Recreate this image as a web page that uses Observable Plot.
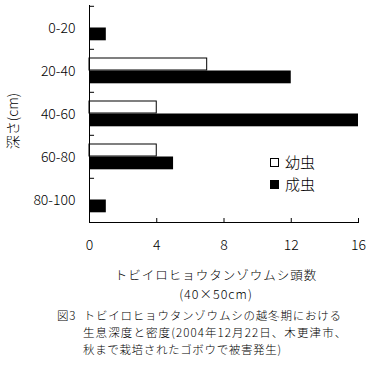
<!DOCTYPE html>
<html><head><meta charset="utf-8">
<script src="https://cdn.jsdelivr.net/npm/d3@7"></script>
<script src="https://cdn.jsdelivr.net/npm/@observablehq/plot@0.6"></script>
<style>
body{margin:0;background:#fff;}
#wrap{position:relative;width:368px;height:375px;font-family:"Noto Sans CJK JP",sans-serif;font-weight:300;color:#000;background:#fff;}
.abs{position:absolute;white-space:pre;line-height:1;}
.sq{display:inline-block;width:7px;height:7px;border:1px solid #000;box-sizing:content-box;vertical-align:1px;}
</style></head><body><div id="wrap"></div>
<script>
const depths = ["0-20","20-40","40-60","60-80","80-100"];
const larvae = [0,7,4,4,0];
const adults = [1,12,16,5,1];
const xTicks = [0,4,8,12,16];
const seriesNames = ["幼虫","成虫"];
const yTitle = "深さ(cm)";
const xTitle1 = "トビイロヒョウタンゾウムシ頭数";
const xTitle2 = "(40×50cm)";
const captionLines = ["図3 トビイロヒョウタンゾウムシの越冬期における","生息深度と密度(2004年12月22日、木更津市、","秋まで栽培されたゴボウで被害発生)"];

const larvaeData = depths.map((d,i)=>({depth:d, value:larvae[i]})).filter(d=>d.value>0);
const adultData = depths.map((d,i)=>({depth:d, value:adults[i]})).filter(d=>d.value>0);

const H = 256, mT = 5, mB = 34;
const band = (H - mT - mB) / depths.length;

const plot = Plot.plot({
  width: 368, height: H, marginLeft: 89, marginRight: 10, marginTop: mT, marginBottom: mB,
  style: {fontFamily: '"Noto Sans CJK JP", sans-serif', fontWeight: 300, fontSize: "14px", background: "white", color: "black", overflow: "visible"},
  x: {domain: [0, 16], ticks: xTicks},
  y: {domain: depths, padding: 0},
  marks: [
    Plot.barX(larvaeData, {x: "value", y: "depth", fill: "white", stroke: "black", strokeWidth: 1, insetTop: 9, insetBottom: 22}),
    Plot.barX(adultData, {x: "value", y: "depth", fill: "black", insetTop: 21.5, insetBottom: 8.7}),
    Plot.ruleX([0], {stroke: "black"}),
    Plot.frame({anchor: "bottom", stroke: "black"}),
    Plot.ruleY(depths, {y: d => d, x1: 0, x2: 0.3, dy: -band/2, stroke: "black"}),
    Plot.axisY({tickSize: 0, tickPadding: 14, label: null, dy: 1}),
    Plot.axisX({ticks: xTicks, tickSize: -4, tickFormat: () => "", label: null}),
    Plot.axisX({ticks: xTicks, tickSize: 0, tickPadding: 18, label: null})
  ]
});

const wrap = document.getElementById("wrap");
wrap.appendChild(plot);
function addText(txt, css){
  const d = document.createElement("div");
  d.className = "abs";
  d.textContent = txt;
  d.style.cssText += css;
  wrap.appendChild(d);
  return d;
}
// y title
addText(yTitle, "left:12px;top:121px;font-size:14px;transform:translate(-50%,-50%) rotate(-90deg);");
// legend
const lg = document.createElement("div");
lg.className = "abs";
lg.style.cssText += "left:270px;top:151px;font-size:15px;line-height:22px;";
lg.innerHTML = `<div><span class="sq" style="background:#fff"></span><span style="margin-left:6px">${seriesNames[0]}</span></div>` +
               `<div><span class="sq" style="background:#000"></span><span style="margin-left:6px">${seriesNames[1]}</span></div>`;
wrap.appendChild(lg);
// x titles
addText(xTitle1, "left:216px;top:275px;font-size:12.5px;letter-spacing:1px;transform:translate(-50%,-50%);");
addText(xTitle2, "left:216px;top:293.5px;font-size:12.5px;letter-spacing:1px;transform:translate(-50%,-50%);");
// caption
addText(captionLines[0], "left:57px;top:316px;font-size:11.5px;letter-spacing:0.8px;word-spacing:4px;transform:translateY(-50%);");
addText(captionLines[1], "left:83px;top:332.8px;font-size:11.5px;letter-spacing:1.1px;transform:translateY(-50%);");
addText(captionLines[2], "left:83px;top:349.6px;font-size:11.5px;letter-spacing:0.65px;transform:translateY(-50%);");
</script></body></html>
